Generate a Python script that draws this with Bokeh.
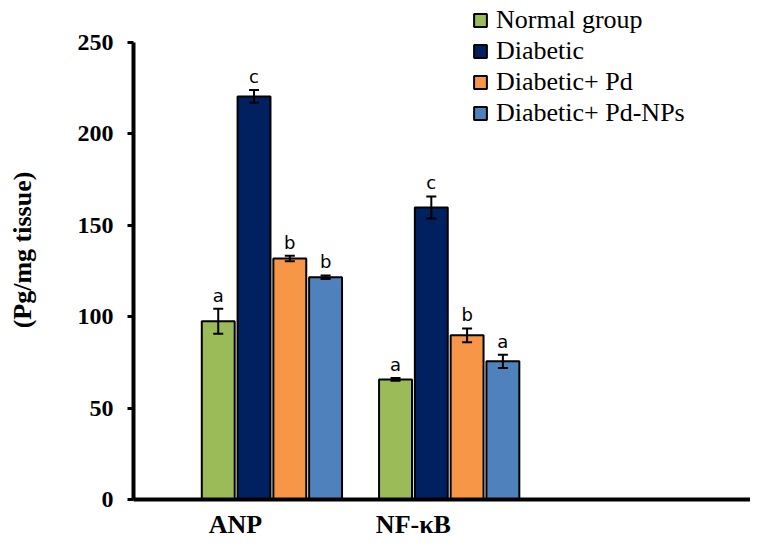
import math
from bokeh.plotting import figure
from bokeh.models import (ColumnDataSource, Range1d, Whisker, TeeHead, Legend,
                          LegendItem, FixedTicker)
from bokeh.core.properties import value
from bokeh.embed import file_html
from bokeh.resources import INLINE

# ---- data ----
categories = ["ANP", "NF-\u03baB"]
groups = ["Normal group", "Diabetic", "Diabetic+ Pd", "Diabetic+ Pd-NPs"]
normal = [97.5, 65.7]
normal_err = [6.8, 0.8]
diabetic = [220.5, 159.8]
diabetic_err = [3.5, 6.0]
pd_vals = [131.8, 89.8]
pd_err = [1.5, 3.8]
nps = [121.6, 75.6]
nps_err = [1.0, 3.6]
letters_normal = ["a", "a"]
letters_diabetic = ["c", "c"]
letters_pd = ["b", "b"]
letters_nps = ["b", "a"]
y_ticks = [0, 50, 100, 150, 200, 250]

colors = ["#9BBB59", "#002060", "#F79646", "#4F81BD"]

# ---- layout parameters ----
group_centers = [0.673, 1.535]
label_x = [0.496, 1.361]
step = 0.174
bar_w = 0.16

p = figure(width=750, height=545, output_backend="svg", toolbar_location=None,
           x_range=Range1d(0, 3), y_range=Range1d(0, 273),
           min_border_left=133, min_border_right=0, min_border_top=0,
           min_border_bottom=46, tools="")
p.outline_line_color = None
p.grid.visible = False
p.background_fill_color = "white"
p.border_fill_color = "white"

series = [(normal, normal_err, letters_normal), (diabetic, diabetic_err, letters_diabetic),
          (pd_vals, pd_err, letters_pd), (nps, nps_err, letters_nps)]

items = []
for i, (vals, errs, lets) in enumerate(series):
    xs = [c + (i - 1.5) * step for c in group_centers]
    src = ColumnDataSource(dict(x=xs, top=vals,
                                lower=[v - e for v, e in zip(vals, errs)],
                                upper=[v + e for v, e in zip(vals, errs)],
                                let=lets))
    r = p.vbar(x="x", top="top", width=bar_w, bottom=0, source=src,
               fill_color=colors[i], line_color="black", line_width=2)
    items.append(LegendItem(label=groups[i], renderers=[r]))
    w = Whisker(base="x", lower="lower", upper="upper", source=src,
                line_color="black", line_width=2, level="overlay",
                upper_head=TeeHead(size=10, line_width=2, line_color="black"),
                lower_head=TeeHead(size=10, line_width=2, line_color="black"))
    p.add_layout(w)
    p.text(x="x", y="upper", text="let", source=src, text_align="center",
           text_baseline="bottom", y_offset=-3,
           text_font=value("DejaVu Sans"), text_font_size="18px",
           text_color="black")

legend = Legend(items=items, location=(339, 371), orientation="vertical",
                padding=0, margin=0, spacing=1, border_line_color=None,
                background_fill_alpha=0, glyph_width=16, glyph_height=16,
                label_standoff=8)
legend.label_text_font = "serif"
legend.label_text_font_style = "normal"
legend.label_text_font_size = "26px"
legend.label_text_color = "black"
p.add_layout(legend, "center")

# y axis
p.yaxis.ticker = FixedTicker(ticks=y_ticks)
p.yaxis.bounds = (0, 250)
p.yaxis.minor_tick_line_color = None
p.yaxis.major_tick_in = 0
p.yaxis.major_tick_out = 6
p.yaxis.major_tick_line_width = 3
p.yaxis.axis_line_width = 4
p.yaxis.major_label_standoff = 14
p.yaxis.major_label_text_font = "Liberation Serif"
p.yaxis.major_label_text_font_style = "bold"
p.yaxis.major_label_text_font_size = "24px"
p.yaxis.major_label_text_color = "black"
p.yaxis.axis_label = "(Pg/mg tissue)"
p.yaxis.axis_label_text_font = "Liberation Serif"
p.yaxis.axis_label_text_font_style = "bold"
p.yaxis.axis_label_text_font_size = "26px"
p.yaxis.axis_label_text_color = "black"
p.yaxis.axis_label_standoff = 38

# x axis with category labels
p.xaxis.ticker = FixedTicker(ticks=label_x)
p.xaxis.major_label_overrides = {label_x[0]: categories[0], label_x[1]: categories[1]}
p.xaxis.major_tick_line_color = None
p.xaxis.major_tick_out = 0
p.xaxis.major_tick_in = 0
p.xaxis.minor_tick_line_color = None
p.xaxis.axis_line_width = 4
p.xaxis.major_label_standoff = 10
p.xaxis.major_label_text_font = "Liberation Serif"
p.xaxis.major_label_text_font_style = "bold"
p.xaxis.major_label_text_font_size = "26px"
p.xaxis.major_label_text_color = "black"

open("out.html", "w").write(file_html(p, INLINE))
